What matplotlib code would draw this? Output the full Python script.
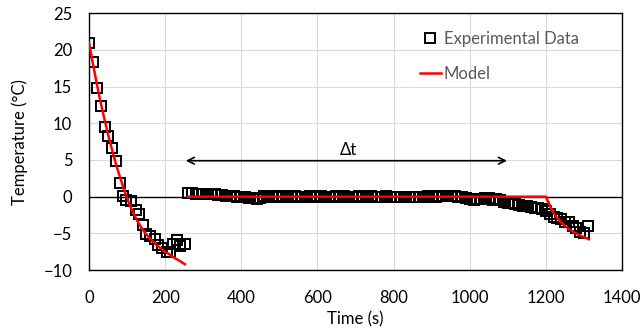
import numpy as np
from matplotlib import pyplot as plt

# Experimental data, cooling part (s, degC)
t_cool = [0, 10, 21, 31, 41, 51, 60, 71, 81, 90, 96, 111, 123, 131, 142, 151, 160,
          173, 182, 193, 204, 214, 221, 230, 240, 252]
T_cool = [21.0, 18.3, 14.8, 12.4, 9.5, 8.2, 6.7, 4.8, 1.8, 0.1, -0.5, -0.6, -1.8, -2.4,
          -3.9, -5.1, -5.3, -5.8, -6.6, -7.0, -7.6, -7.5, -6.5, -5.9, -6.7, -6.5]

# Experimental data, plateau + freezing part
t_plat = list(range(260, 1320, 10))
T_plat = [0.5, 0.5, 0.4, 0.4, 0.4, 0.3, 0.3, 0.3, 0.2, 0.2,
          0.1, 0.1, 0.1, 0.0, 0.0, -0.1, -0.2, -0.2, -0.3, -0.2,
          0.1, -0.1, 0.0, 0.1, 0.1, 0.0, 0.1, 0.0, 0.1, 0.0,
          -0.1, 0.0, 0.1, 0.0, 0.0, 0.1, 0.0, -0.1, 0.0, 0.1,
          0.0, 0.1, 0.0, -0.1, 0.0, 0.1, 0.0, 0.0, 0.1, 0.0,
          0.0, 0.0, 0.1, 0.0, 0.0, 0.0, 0.0, 0.0, 0.0, 0.0,
          0.0, 0.0, 0.0, 0.1, 0.0, 0.0, 0.1, 0.1, 0.1, 0.1,
          0.1, 0.0, -0.1, -0.2, -0.3, -0.4, -0.3, -0.3, -0.2, -0.2,
          -0.4, -0.3, -0.4, -0.7, -0.8, -0.8, -1.0, -1.1, -1.2, -1.3,
          -1.4, -1.5, -1.6, -1.7, -2.0, -2.4, -2.7, -2.9, -3.0, -3.4,
          -3.5, -4.0, -4.2, -4.8, -4.9, -4.0]

# Model curves
tm_cool = [0, 10, 20, 30, 40, 50, 60, 70, 80, 90, 100, 110, 120, 130, 140, 150, 160,
           170, 180, 190, 200, 210, 220, 230, 240, 252]
Tm_cool = [21.0, 18.2, 15.5, 13.0, 10.7, 8.5, 6.5, 4.6, 2.9, 1.3, -0.2, -1.5, -2.6,
           -3.6, -4.4, -5.1, -5.7, -6.2, -6.7, -7.1, -7.5, -7.8, -8.2, -8.5, -8.8, -9.2]
tm_plat = [260, 1200, 1205, 1215, 1225, 1240, 1255, 1275, 1295, 1313]
Tm_plat = [0.0, 0.0, -0.6, -1.8, -2.6, -3.5, -4.2, -4.9, -5.4, -5.8]

plt.rcParams['font.family'] = ['Lato', 'DejaVu Sans']
fs = 12
fig = plt.figure(figsize=(6.42, 3.29), dpi=100)
ax = fig.add_axes([0.1386, 0.179, 0.969 - 0.1386, 0.960 - 0.179])

ax.grid(True, color='#d9d9d9', lw=0.8)
ax.set_axisbelow(True)
ax.axhline(0, color='black', lw=1.0, zorder=1)

mk = dict(marker='s', ls='none', ms=6.5, mfc='none', mec='black', mew=1.4, zorder=2)
ax.plot(t_cool, T_cool, label='Experimental Data', **mk)
ax.plot(t_plat, T_plat, **mk)
ax.plot(tm_cool, Tm_cool, color='red', lw=1.8, label='Model', zorder=3)
ax.plot(tm_plat, Tm_plat, color='red', lw=1.8, zorder=3)

ax.annotate('', xy=(247, 4.9), xytext=(1105, 4.9),
            arrowprops=dict(arrowstyle='<->', color='black', lw=1.2,
                            mutation_scale=12))
ax.text(680, 6.4, '\u0394t', ha='center', va='center', fontsize=fs)

ax.set_xlim(0, 1400)
ax.set_ylim(-10, 25)
ax.set_xticks(np.arange(0, 1401, 200))
ax.set_yticks(np.arange(-10, 26, 5))
ax.tick_params(axis='x', length=0, labelsize=fs, pad=14)
ax.tick_params(axis='y', length=0, labelsize=fs, pad=12)
for s in ax.spines.values():
    s.set_color('black')
    s.set_linewidth(1.0)
ax.set_xlabel('Time (s)', fontsize=fs, labelpad=4)
ax.set_ylabel('Temperature (\u00b0C)', fontsize=fs, labelpad=11)

leg = ax.legend(frameon=False, loc='upper left', bbox_to_anchor=(0.592, 0.988),
                fontsize=fs, handlelength=1.3, handletextpad=0.15, labelspacing=1.1)
for txt in leg.get_texts():
    txt.set_color('#595959')

fig.savefig('out.png', dpi=100)
